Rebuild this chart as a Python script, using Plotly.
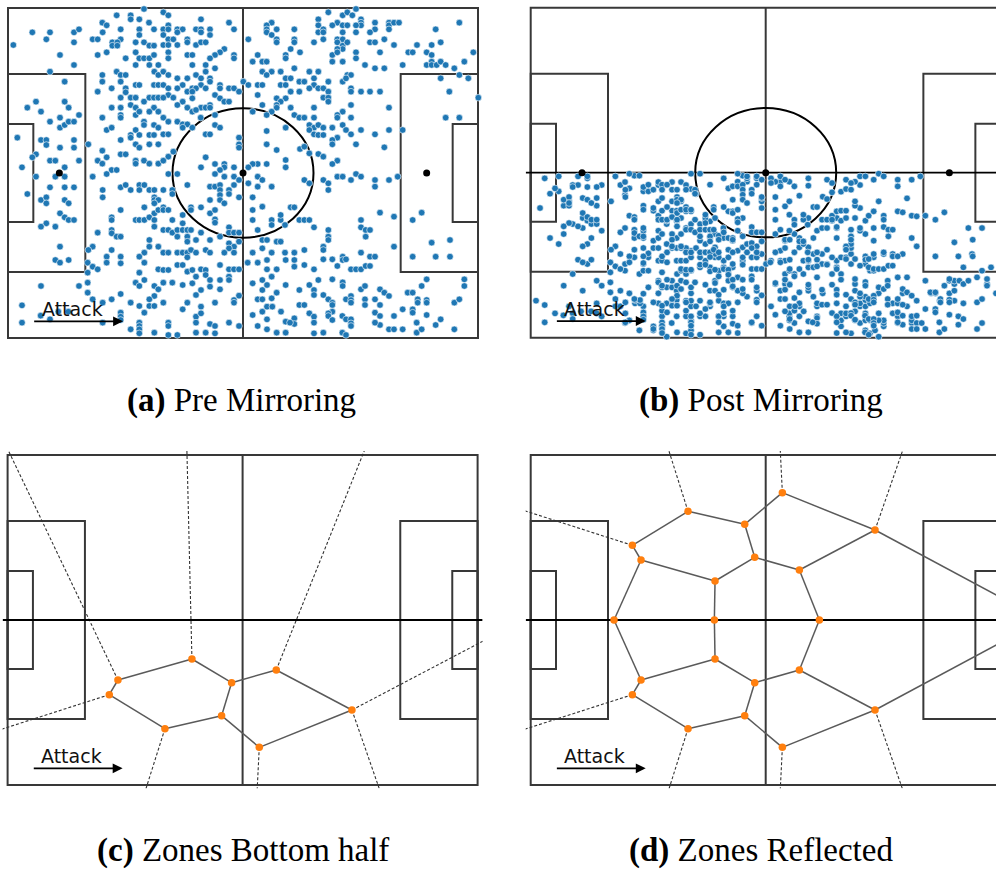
import plotly.graph_objects as go

FIG_W, FIG_H = 996, 869
PX = 10 / 3  # screen pixels per pitch unit (same on both axes)

# Pitch geometry (pitch units, origin at bottom-left corner, attack to the right)
PITCH_LEN, PITCH_WID = 141.0, 99.0
MID_X, MID_Y = PITCH_LEN / 2, PITCH_WID / 2
BOX_DEPTH, BOX_HALF = 23.2, 29.7
SIX_DEPTH, SIX_HALF = 7.6, 14.7
SPOT_DIST = 15.4
CIRCLE_RX, CIRCLE_RY = 21.15, 19.4

X_RANGE = [-1.5, 142.5]
Y_RANGE = [-1.0, 100.2]

LINE_COL = "#383838"
BLUE = "#1f77b4"
ORANGE = "#ff7f0e"

# Event locations
shot_x = [
    40.8, 32.6, 36.8, 36.8, 39.4, 42.3, 28.3, 29.6, 33.8, 39.4,
    43.8, 7.3, 12.6, 19.8, 21.3, 39.4, 28.4, 11.5, 19.8, 25.4,
    26.9, 33.8, 31.3, 32.8, 31.3, 32.8, 38.3, 40.8, 42.4, 43.8,
    1.6, 15.6, 26.9, 29.6, 35.3, 38.3, 39.4, 40.8, 42.4, 43.8,
    19.8, 38.3, 42.4, 45.1, 12.6, 28.3, 32.6, 33.8, 35.3, 43.9,
    45.1, 17.0, 28.3, 33.8, 38.3, 39.4, 43.8, 45.1, 26.9, 31.1,
    35.3, 35.3, 33.8, 36.8, 38.3, 40.8, 42.4, 43.8, 45.1, 8.4,
    17.0, 5.8, 18.2, 9.9, 31.1, 33.8, 36.8, 38.3, 43.8, 21.3,
    15.6, 33.8, 33.8, 38.3, 39.4, 42.4, 45.1, 28.3, 12.6, 15.6,
    17.0, 18.2, 19.8, 29.6, 31.1, 40.8, 40.8, 43.8, 45.1, 38.3,
    36.8, 36.8, 39.4, 42.4, 43.8, 2.8, 9.9, 11.5, 11.5, 19.8,
    33.8, 24.1, 15.6, 19.8, 38.3, 39.4, 42.4, 45.1, 28.3, 8.4,
    7.3, 29.6, 33.8, 35.3, 12.6, 14.2, 21.3, 26.9, 28.3, 38.3,
    38.3, 40.8, 42.4, 45.1, 4.2, 17.0, 31.1, 32.6,
    46.6, 48.1, 57.9, 66.3, 79.1, 48.1, 77.6, 93.1, 93.1, 46.6,
    48.1, 50.8, 52.4, 56.4, 57.9, 60.6, 67.8, 77.6, 80.6, 85.9,
    57.9, 60.6, 50.8, 77.6, 93.1, 46.6, 48.1, 49.6, 53.8, 72.1,
    79.1, 80.6, 85.9, 85.9, 91.8, 46.6, 48.1, 50.8, 53.8, 56.4,
    57.9, 59.3, 80.6, 48.1, 64.9, 63.6, 62.1, 53.8, 55.3, 67.8,
    74.9, 83.3, 84.8, 87.6, 48.1, 60.6, 67.8, 73.4, 76.3, 77.6,
    83.3, 55.3, 59.3, 62.1, 85.9, 46.6, 59.3, 76.3, 79.1, 81.8,
    90.4, 93.1, 48.1, 50.8, 53.8, 56.4, 57.9, 60.6, 77.6, 83.3,
    84.8, 91.8, 60.6, 70.6, 46.6, 52.4, 57.9, 63.6, 72.1, 74.9,
    76.3, 81.8, 83.3, 87.4, 88.9, 91.8, 48.1, 50.8, 55.3, 56.4,
    59.3, 63.6, 66.3, 67.8, 53.8, 55.3, 69.3, 84.8, 87.4, 90.4,
    93.1, 48.1, 46.6, 49.6, 62.1, 63.6, 55.3, 52.4, 64.9, 66.3,
    74.9, 80.6, 83.3, 81.8, 50.8, 60.6, 53.8, 57.9, 59.3, 60.6,
    55.3, 56.4, 80.6, 80.6, 76.3, 79.1, 73.4, 84.8, 91.8, 62.1,
    46.6, 57.8, 77.6, 85.9, 87.4, 88.9, 91.8, 48.1, 50.8, 52.4,
    53.8, 52.4, 55.3, 62.1, 63.6, 83.3, 90.4, 91.8, 93.1, 90.4,
    46.6, 48.1, 59.3, 60.6, 69.3, 77.6, 91.8, 93.1, 69.3, 69.3,
    77.6, 87.6, 88.9, 49.6, 48.1, 59.3, 80.6, 90.4, 93.1, 46.6,
    62.1, 64.9, 83.3, 77.6, 74.9, 73.4, 64.9, 67.8, 57.9, 72.1,
    83.3, 63.6,
    96.1, 100.4, 101.8, 103.3, 104.4, 105.9, 105.9, 105.9, 98.8, 100.4,
    97.3, 101.8, 104.4, 94.6, 94.6, 100.4, 104.4, 110.1, 110.1, 108.6,
    114.3, 114.3, 114.3, 115.8, 117.3, 135.4, 128.3, 94.6, 98.8, 100.4,
    98.8, 100.4, 100.4, 98.8, 101.8, 108.6, 110.1, 112.9, 115.8, 122.7,
    120.1, 121.4, 125.6, 127.1, 127.1, 129.8, 111.6, 104.4, 104.4, 97.3,
    98.8, 97.3, 100.4, 107.1, 110.1, 112.9, 118.4, 125.6, 127.1, 127.1,
    128.6, 129.8, 131.3, 133.9, 136.9, 139.6, 129.8, 135.4, 138.1, 96.1,
    100.4, 101.8, 102.9, 101.4, 94.6, 96.1, 94.6, 96.1, 96.1, 102.9,
    102.9, 105.9, 108.6, 111.6, 132.4, 141.1, 114.3, 102.9, 100.4, 98.8,
    98.8, 102.9, 94.6, 97.3, 100.4, 101.4, 102.9, 105.9, 110.1, 114.3,
    118.4, 131.3, 135.4, 94.6, 98.8, 97.3, 97.3, 104.4, 112.9, 94.6,
    98.8, 97.3,
    8.4, 14.2, 17.0, 25.4, 29.6, 12.6, 17.0, 19.8, 5.8, 9.9,
    11.5, 11.5, 17.0, 18.2, 15.6, 17.0, 18.2, 19.8, 11.5, 9.9,
    14.2, 15.6, 14.2, 15.6, 18.2, 28.4, 28.4, 33.8, 35.3, 36.8,
    39.4, 40.9, 39.4, 42.4, 43.9, 43.9, 43.9, 45.1, 43.9, 40.9,
    33.8, 43.9, 45.1, 31.1, 31.1, 38.3, 39.4, 40.9, 42.4, 43.9,
    43.9, 26.9, 31.1, 31.1, 32.6, 33.8, 42.4, 42.4, 45.1, 25.4,
    24.1, 31.1, 40.9, 39.4, 33.8, 33.8, 29.6, 29.6, 23.9, 25.4,
    26.9, 23.9, 40.9, 45.1, 39.4, 40.9, 9.9, 21.3, 23.9, 23.9,
    25.4, 31.1, 33.8, 28.4, 36.8, 38.3, 39.4, 43.9, 45.1, 43.9,
    42.4, 39.4, 42.4, 43.9, 40.9, 4.2, 4.2, 12.6, 9.8, 28.4,
    33.8, 33.8, 33.8, 36.8, 39.4, 39.4, 39.4, 39.4, 43.9, 15.1,
    18.1,
    48.1, 50.8, 62.1, 64.9, 67.8, 69.3, 72.1, 74.9, 76.3, 88.9,
    90.4, 46.6, 49.3, 49.3, 53.8, 60.6, 62.1, 63.6, 63.6, 63.6,
    66.3, 66.3, 67.8, 69.3, 73.4, 79.1, 74.9, 46.6, 46.6, 48.1,
    49.3, 52.4, 52.4, 54.9, 54.9, 57.9, 60.6, 62.1, 60.6, 63.6,
    64.9, 62.1, 62.1, 66.3, 66.3, 67.8, 69.3, 73.4, 73.4, 74.9,
    76.3, 79.1, 79.1, 81.8, 81.8, 84.8, 85.9, 83.1, 87.4, 88.9,
    90.4, 91.8, 46.6, 48.1, 49.3, 50.8, 50.8, 52.4, 53.8, 54.9,
    53.8, 53.8, 56.4, 57.9, 60.6, 63.6, 66.3, 67.8, 66.3, 69.3,
    46.6, 48.1, 50.8, 52.4, 53.8, 54.9, 53.8, 56.4, 59.3, 60.6,
    64.9, 67.8, 73.4, 76.3, 79.1, 76.3, 77.7, 80.6, 81.8, 83.1,
    85.9, 88.9, 46.6, 48.1, 50.8, 52.4, 53.8, 55.3, 56.4, 57.9,
    59.3, 59.3, 60.6, 63.6, 63.6, 66.3, 67.8, 66.3, 66.3, 69.3,
    71.9, 74.9, 77.7, 77.7, 76.3, 79.1, 80.6, 83.3, 85.9, 85.9,
    88.9, 91.8, 46.6, 49.3, 52.4, 55.3, 57.9, 56.4, 60.6, 63.6,
    62.1, 57.9, 67.8, 67.8, 69.3, 73.4, 76.3, 77.7, 80.6, 79.1,
    83.3, 87.4, 90.4, 91.8, 91.8, 93.1, 46.6, 53.8, 52.4, 56.4,
    57.9, 60.6, 62.1, 48.1, 48.1, 48.1, 50.8, 56.4, 56.4, 59.3,
    62.1, 66.3, 69.3, 73.4, 74.9, 76.3, 77.7, 79.3, 76.3, 77.7,
    81.9, 83.3, 83.3, 85.9, 85.9, 84.6, 87.4, 88.9, 90.4, 91.8,
    91.8, 91.8, 74.9, 77.7, 80.6,
    94.6, 96.1, 96.1, 98.8, 100.4, 102.9, 104.4, 105.9, 110.1, 110.1,
    114.3, 116.9, 111.6, 115.8, 121.4, 124.1, 105.9, 105.9, 107.3, 108.6,
    107.3, 96.1, 96.1, 96.1, 94.6, 94.6, 115.8, 127.1, 132.6, 121.4,
    128.3, 132.6, 94.6, 97.3, 98.8, 100.4, 100.4, 101.4, 102.9, 104.4,
    105.9, 107.3, 108.6, 108.6, 110.1, 105.9, 97.3, 100.4, 100.4, 105.9,
    107.1, 111.6, 112.9, 114.3, 94.6, 96.1, 97.3, 97.3, 101.4, 102.9,
    102.9, 102.9, 107.1, 107.1, 110.1, 111.6, 110.1, 111.6, 111.6, 110.1,
    115.8, 118.4, 119.9, 121.4, 122.9, 122.9, 121.4, 121.4, 125.6, 125.6,
    124.1, 125.6, 136.9, 136.9, 133.9, 135.4, 125.6, 129.8, 128.3, 122.6,
    122.6, 124.1, 133.9, 100.3, 101.4, 102.9, 102.9, 102.9, 97.3, 96.1,
    96.1, 97.3, 94.6, 100.3, 101.4, 114.3, 115.8, 118.4,
]
shot_y = [
    98.7, 96.8, 96.8, 95.6, 95.6, 94.6, 94.6, 93.8, 92.6, 92.6,
    92.6, 91.7, 91.7, 91.7, 92.6, 90.9, 91.7, 89.6, 88.7, 89.6,
    89.6, 89.6, 88.7, 88.7, 87.7, 87.7, 88.7, 88.7, 87.7, 87.7,
    87.9, 84.9, 84.9, 85.7, 83.9, 85.7, 83.9, 83.9, 83.9, 84.9,
    81.9, 81.9, 81.9, 81.9, 79.9, 78.9, 79.9, 78.9, 78.9, 79.9,
    78.9, 76.9, 76.9, 76.9, 75.9, 75.9, 75.9, 75.9, 73.9, 74.9,
    74.9, 73.7, 72.1, 72.1, 72.1, 70.9, 72.1, 72.1, 72.1, 70.9,
    70.9, 69.1, 69.1, 67.9, 69.1, 69.1, 69.9, 69.1, 69.1, 66.9,
    66.1, 66.9, 66.1, 66.9, 67.9, 67.9, 67.9, 66.1, 64.9, 63.1,
    63.9, 64.9, 64.9, 62.4, 63.1, 64.9, 63.9, 63.9, 63.1, 62.4,
    60.9, 60.1, 60.9, 60.9, 60.9, 60.1, 59.4, 59.4, 57.9, 59.4,
    59.4, 58.1, 57.1, 57.1, 58.1, 57.1, 58.1, 58.1, 56.2, 55.1,
    54.2, 54.2, 55.1, 55.1, 53.2, 53.2, 53.2, 53.2, 52.3, 53.2,
    52.3, 53.2, 52.3, 52.3, 51.2, 51.2, 50.4, 50.4,
    97.7, 96.8, 95.6, 94.6, 94.6, 93.8, 93.8, 95.6, 93.8, 92.6,
    92.6, 92.6, 92.6, 92.6, 92.6, 92.6, 92.6, 92.6, 92.6, 92.6,
    91.7, 90.9, 91.7, 91.7, 91.7, 90.9, 89.6, 89.6, 89.6, 89.6,
    90.9, 89.6, 89.6, 88.7, 88.7, 87.9, 87.9, 87.9, 88.7, 87.9,
    88.7, 88.7, 88.7, 85.7, 86.7, 85.7, 84.9, 84.9, 84.9, 84.9,
    84.9, 84.9, 86.7, 85.7, 83.9, 83.9, 83.9, 82.9, 82.9, 82.9,
    83.9, 81.9, 81.9, 80.9, 80.9, 79.9, 79.9, 79.9, 79.9, 79.9,
    79.9, 79.9, 78.9, 77.9, 77.9, 78.9, 77.9, 77.9, 78.9, 77.9,
    77.9, 77.9, 76.9, 76.9, 75.9, 75.9, 75.9, 75.9, 75.9, 75.9,
    75.9, 75.9, 75.9, 76.9, 76.9, 75.9, 74.9, 74.9, 74.9, 74.9,
    74.9, 74.9, 74.9, 74.9, 73.9, 73.9, 73.9, 73.9, 73.9, 74.9,
    74.9, 72.9, 72.1, 72.1, 72.9, 71.9, 71.9, 70.9, 70.9, 70.9,
    72.9, 71.9, 71.9, 70.9, 69.9, 69.9, 69.1, 69.1, 69.1, 69.1,
    67.9, 68.4, 69.9, 69.1, 69.9, 67.9, 67.9, 69.1, 69.1, 66.9,
    66.1, 66.1, 66.9, 66.9, 66.1, 66.1, 66.1, 64.9, 64.9, 64.1,
    64.1, 63.1, 63.1, 63.9, 63.1, 63.1, 63.9, 63.1, 63.9, 62.4,
    61.1, 61.1, 61.1, 61.1, 60.1, 62.1, 61.1, 60.9, 58.1, 57.1,
    58.1, 56.7, 57.4, 55.9, 54.4, 54.2, 56.4, 55.4, 55.2, 53.2,
    52.2, 52.2, 53.4, 52.2, 52.2, 52.2, 51.2, 51.2, 51.2, 51.2,
    51.2, 50.4,
    97.7, 96.8, 97.7, 96.8, 98.7, 95.6, 94.6, 93.8, 94.6, 93.8,
    93.8, 93.8, 93.8, 92.6, 91.7, 91.7, 91.7, 94.6, 92.6, 91.7,
    94.6, 93.8, 92.6, 94.6, 94.6, 94.6, 92.6, 89.6, 89.6, 89.6,
    88.7, 87.7, 86.7, 86.7, 88.7, 88.7, 88.7, 89.6, 87.9, 87.9,
    85.7, 85.7, 85.7, 87.9, 84.9, 88.7, 85.7, 85.7, 83.9, 84.9,
    85.7, 82.9, 82.9, 81.9, 80.9, 80.9, 81.9, 81.9, 82.9, 81.9,
    81.9, 82.9, 81.9, 80.9, 82.9, 85.7, 77.9, 78.9, 77.9, 76.9,
    76.9, 78.9, 78.9, 77.9, 74.9, 73.9, 72.1, 72.1, 70.9, 74.9,
    73.9, 73.9, 73.9, 73.9, 73.9, 72.1, 69.1, 69.9, 67.9, 66.9,
    66.1, 66.1, 63.1, 63.1, 63.9, 62.4, 61.1, 62.4, 61.1, 62.4,
    62.4, 66.1, 66.1, 60.9, 60.1, 59.4, 58.1, 58.1, 57.2, 54.4,
    53.2, 52.2,
    48.4, 48.4, 48.4, 48.4, 49.2, 45.2, 45.2, 45.2, 43.2, 41.4,
    42.2, 40.4, 41.4, 40.4, 37.4, 36.2, 35.4, 35.4, 34.4, 33.4,
    33.4, 27.4, 23.4, 22.6, 23.4, 44.4, 42.2, 45.2, 45.9, 44.4,
    45.9, 45.9, 44.4, 44.4, 44.4, 42.2, 41.4, 41.4, 40.4, 39.2,
    38.4, 37.4, 38.4, 36.2, 35.4, 35.4, 35.4, 35.4, 36.2, 35.4,
    33.4, 31.6, 32.4, 31.4, 30.4, 30.4, 29.4, 27.4, 27.4, 27.4,
    26.4, 26.4, 25.6, 24.4, 24.4, 22.4, 24.4, 22.6, 22.6, 21.4,
    20.6, 19.6, 22.6, 20.6, 19.6, 17.4, 15.6, 15.6, 16.6, 13.6,
    11.6, 11.6, 13.2, 10.6, 10.6, 16.6, 15.6, 15.6, 14.6, 12.6,
    11.6, 9.6, 9.6, 9.6, 7.6, 9.8, 4.6, 5.6, 6.7, 4.6,
    7.6, 6.4, 5.4, 2.6, 4.6, 3.6, 2.6, 1.4, 1.6, 7.9,
    7.9,
    49.2, 49.2, 49.2, 48.4, 48.4, 47.4, 46.4, 48.4, 47.4, 47.4,
    46.4, 44.4, 44.4, 43.2, 45.9, 45.4, 45.4, 45.9, 44.4, 42.9,
    44.4, 43.2, 45.9, 42.2, 42.2, 45.4, 45.4, 39.2, 38.4, 38.4,
    35.4, 36.9, 34.4, 39.2, 38.4, 39.2, 37.4, 38.4, 41.4, 41.4,
    40.4, 35.6, 34.6, 33.2, 31.6, 31.6, 31.6, 35.4, 38.4, 32.4,
    39.4, 35.4, 33.9, 35.4, 36.9, 39.2, 39.2, 33.9, 35.4, 35.4,
    35.4, 33.2, 32.4, 32.4, 31.6, 32.4, 30.4, 32.4, 32.4, 32.4,
    30.4, 28.9, 29.4, 31.6, 29.4, 30.4, 28.4, 27.4, 26.9, 28.9,
    25.6, 25.6, 25.6, 25.6, 25.6, 26.4, 24.2, 25.6, 26.4, 25.6,
    25.6, 25.6, 25.6, 26.9, 25.6, 29.4, 29.4, 28.9, 28.9, 25.6,
    25.6, 26.4, 20.4, 20.4, 21.9, 21.9, 19.9, 20.4, 18.4, 20.6,
    20.4, 18.9, 17.4, 21.9, 17.4, 20.6, 20.6, 18.4, 17.4, 20.6,
    22.6, 22.6, 23.4, 20.6, 17.4, 18.4, 20.6, 23.4, 23.4, 21.4,
    21.9, 20.6, 16.6, 16.6, 15.9, 16.4, 14.4, 12.9, 15.4, 14.6,
    10.6, 9.4, 11.4, 10.6, 12.7, 16.4, 14.4, 15.9, 13.6, 11.9,
    15.9, 14.4, 15.9, 14.4, 12.9, 17.4, 10.6, 10.6, 8.6, 6.4,
    7.4, 4.2, 3.6, 4.6, 3.6, 0.9, 0.9, 4.6, 1.6, 1.6,
    1.4, 4.6, 3.6, 6.9, 11.6, 11.6, 9.4, 9.4, 7.9, 5.6,
    7.9, 4.9, 1.6, 5.9, 4.2, 4.6, 9.9, 9.9, 7.4, 6.4,
    4.6, 1.4, 3.6, 2.6, 1.6,
    47.4, 46.4, 44.4, 48.4, 48.4, 47.4, 49.2, 48.4, 47.4, 45.4,
    47.4, 48.4, 37.6, 36.4, 35.4, 37.6, 35.4, 33.2, 32.4, 32.4,
    30.4, 32.4, 30.4, 29.4, 27.4, 26.4, 27.4, 28.6, 29.4, 24.4,
    24.4, 24.4, 23.6, 23.6, 21.6, 24.4, 23.4, 23.6, 20.6, 20.6,
    20.6, 21.6, 21.6, 24.4, 24.4, 25.6, 17.6, 16.7, 15.6, 14.6,
    15.6, 14.6, 13.6, 12.6, 12.9, 11.6, 10.6, 9.9, 11.6, 12.6,
    11.4, 10.6, 11.6, 9.9, 11.6, 9.9, 7.6, 6.6, 3.9, 4.6,
    6.6, 8.6, 13.6, 13.6, 11.6, 10.6, 8.6, 7.6, 11.4, 10.6,
    15.6, 17.6, 17.6, 15.6, 10.6, 11.6, 6.9, 5.6, 3.9, 4.6,
    1.6, 2.6, 2.6, 6.6, 5.6, 5.6, 4.4, 3.6, 7.9, 7.4,
    6.6, 5.4, 1.6, 1.6, 0.9, 2.6, 2.6, 2.6,
]
assert len(shot_x) == len(shot_y)

# Mirroring: events in the upper half are reflected into the lower half
mirror_x = list(shot_x)
mirror_y = [PITCH_WID - y if y > MID_Y else y for y in shot_y]

# Zone diagram for the bottom half: Voronoi vertices and ridges
zone_vx = [33.1, 30.5, 55.3, 67.2, 80.6, 64.2, 47.2, 75.5, 103.3]
zone_vy = [31.5, 27.1, 37.8, 30.7, 34.5, 20.8, 16.9, 11.3, 22.5]
ridge_from = [0, 2, 3, 4, 8, 7, 5, 5, 6, 1]
ridge_to = [2, 3, 4, 8, 7, 5, 3, 6, 1, 0]
# unbounded ridges: start vertex and a point the ridge passes through
open_from = [0, 2, 4, 8, 8, 7, 6, 1]
open_px = [0.4, 53.8, 106.9, 142.3, 111.4, 74.9, 41.6, -1.6]
open_py = [100.0, 100.0, 100.0, 43.0, -0.8, -0.8, -0.8, 16.8]

# Reflected diagram: extra vertices on the halfway axis and their links
axis_vx = [25.0, 55.1, 86.6, 153.6]
axis_link_from = [0, 2, 4, 8]          # bottom-half vertex joined to axis vertex
axis_link_to = [0, 1, 2, 3]
kept_open = [4, 5, 6, 7]               # unbounded ridges that survive reflection
axis_open_dir = [-1, 0, 0, 1]          # axis vertices with a ridge running along the axis


def panel_domain(left_px, bottom_px, xr, yr):
    x0 = left_px + xr[0] * PX
    x1 = left_px + xr[1] * PX
    top = bottom_px - yr[1] * PX
    bot = bottom_px - yr[0] * PX
    return [x0 / FIG_W, min(x1, FIG_W) / FIG_W], [1 - bot / FIG_H, 1 - top / FIG_H]


# pitch origin on screen for each panel (left edge, bottom edge)
panels = [
    (8.0, 338.0),
    (530.7, 337.7),
    (7.6, 785.0),
    (530.7, 785.0),
]

fig = go.Figure()
layout_axes = {}
shapes = []
annotations = []

for i, (lpx, bpx) in enumerate(panels, start=1):
    xr = list(X_RANGE)
    if lpx + xr[1] * PX > FIG_W:
        xr[1] = (FIG_W - lpx) / PX
    dx, dy = panel_domain(lpx, bpx, xr, Y_RANGE)
    sfx = "" if i == 1 else str(i)
    layout_axes["xaxis" + sfx] = dict(domain=dx, range=xr, visible=False,
                                      fixedrange=True, anchor="y" + sfx)
    layout_axes["yaxis" + sfx] = dict(domain=dy, range=Y_RANGE, visible=False,
                                      fixedrange=True, anchor="x" + sfx)

    xa, ya = "x" + sfx, "y" + sfx
    ref = dict(xref=xa, yref=ya, layer="below")
    ln = dict(color=LINE_COL, width=2)
    shapes += [
        dict(type="rect", x0=0, y0=0, x1=PITCH_LEN, y1=PITCH_WID, line=ln, **ref),
        dict(type="line", x0=MID_X, y0=0, x1=MID_X, y1=PITCH_WID, line=ln, **ref),
        dict(type="rect", x0=0, y0=MID_Y - BOX_HALF, x1=BOX_DEPTH, y1=MID_Y + BOX_HALF, line=ln, **ref),
        dict(type="rect", x0=PITCH_LEN - BOX_DEPTH, y0=MID_Y - BOX_HALF, x1=PITCH_LEN,
             y1=MID_Y + BOX_HALF, line=ln, **ref),
        dict(type="rect", x0=0, y0=MID_Y - SIX_HALF, x1=SIX_DEPTH, y1=MID_Y + SIX_HALF, line=ln, **ref),
        dict(type="rect", x0=PITCH_LEN - SIX_DEPTH, y0=MID_Y - SIX_HALF, x1=PITCH_LEN,
             y1=MID_Y + SIX_HALF, line=ln, **ref),
    ]
    if i <= 2:
        shapes.append(dict(type="circle", x0=MID_X - CIRCLE_RX, x1=MID_X + CIRCLE_RX,
                           y0=MID_Y - CIRCLE_RY, y1=MID_Y + CIRCLE_RY,
                           line=dict(color="black", width=2), **ref))
    if i == 2:
        shapes.append(dict(type="line", x0=xr[0], y0=MID_Y, x1=xr[1], y1=MID_Y,
                           line=dict(color="black", width=1.8), **ref))

    # attack direction
    annotations.append(dict(x=19.2, y=8.6, xref=xa, yref=ya, text="Attack", showarrow=False,
                            font=dict(family="DejaVu Sans", size=19, color="#111111"),
                            xanchor="center", yanchor="middle"))
    annotations.append(dict(x=34.5, y=5.0, ax=7.4, ay=5.0, xref=xa, yref=ya, axref=xa, ayref=ya,
                            text="", showarrow=True, arrowhead=2, arrowsize=1.1,
                            arrowwidth=1.8, arrowcolor="black", standoff=0, startstandoff=0))

spots_x = [SPOT_DIST, MID_X, PITCH_LEN - SPOT_DIST]
spots_y = [MID_Y, MID_Y, MID_Y]
dot_style = dict(size=6.6, color=BLUE, line=dict(color="white", width=0.6))

# (a) raw events
fig.add_trace(go.Scatter(x=shot_x, y=shot_y, mode="markers", marker=dot_style,
                         xaxis="x", yaxis="y", showlegend=False))
fig.add_trace(go.Scatter(x=spots_x, y=spots_y, mode="markers",
                         marker=dict(size=7, color="black"), xaxis="x", yaxis="y", showlegend=False))

# (b) mirrored events
fig.add_trace(go.Scatter(x=mirror_x, y=mirror_y, mode="markers", marker=dot_style,
                         xaxis="x2", yaxis="y2", showlegend=False))
fig.add_trace(go.Scatter(x=spots_x, y=spots_y, mode="markers",
                         marker=dict(size=7, color="black"), xaxis="x2", yaxis="y2", showlegend=False))


def segments(pairs):
    xs, ys = [], []
    for (x0, y0), (x1, y1) in pairs:
        xs += [x0, x1, None]
        ys += [y0, y1, None]
    return xs, ys


def far_point(v, p, k=6.0):
    return (v[0] + k * (p[0] - v[0]), v[1] + k * (p[1] - v[1]))


def add_zones(verts, solid, dashed, xa, ya):
    sx, sy = segments(solid)
    fig.add_trace(go.Scatter(x=sx, y=sy, mode="lines", line=dict(color="#5a5a5a", width=1.5),
                             xaxis=xa, yaxis=ya, showlegend=False, hoverinfo="skip"))
    dxs, dys = segments(dashed)
    fig.add_trace(go.Scatter(x=dxs, y=dys, mode="lines",
                             line=dict(color="#333333", width=1.1, dash="3px,2px"),
                             xaxis=xa, yaxis=ya, showlegend=False, hoverinfo="skip"))
    fig.add_trace(go.Scatter(x=[X_RANGE[0], X_RANGE[1]], y=[MID_Y, MID_Y], mode="lines",
                             line=dict(color="black", width=1.8),
                             xaxis=xa, yaxis=ya, showlegend=False, hoverinfo="skip"))
    fig.add_trace(go.Scatter(x=[v[0] for v in verts], y=[v[1] for v in verts], mode="markers",
                             marker=dict(size=7.5, color=ORANGE), xaxis=xa, yaxis=ya,
                             showlegend=False))


# (c) zones for the bottom half
vc = list(zip(zone_vx, zone_vy))
solid_c = [(vc[a], vc[b]) for a, b in zip(ridge_from, ridge_to)]
dashed_c = [(vc[a], far_point(vc[a], (px_, py_))) for a, px_, py_ in zip(open_from, open_px, open_py)]
add_zones(vc, solid_c, dashed_c, "x3", "y3")

# (d) zones after reflecting the generators about the halfway axis
vtop = [(x, PITCH_WID - y) for x, y in vc]
vaxis = [(x, MID_Y) for x in axis_vx]
solid_d = solid_c + [(vtop[a], vtop[b]) for a, b in zip(ridge_from, ridge_to)]
for a, b in zip(axis_link_from, axis_link_to):
    solid_d += [(vc[a], vaxis[b]), (vtop[a], vaxis[b])]
solid_d += [(vaxis[k], vaxis[k + 1]) for k in range(len(vaxis) - 1)]
dashed_d = []
for k in kept_open:
    a = open_from[k]
    p = (open_px[k], open_py[k])
    dashed_d.append((vc[a], far_point(vc[a], p)))
    dashed_d.append((vtop[a], far_point(vtop[a], (p[0], PITCH_WID - p[1]))))
for v, d in zip(vaxis, axis_open_dir):
    if d:
        dashed_d.append((v, (v[0] + d * 200, MID_Y)))
add_zones(vc + vtop + vaxis[:3], solid_d, dashed_d, "x4", "y4")

# sub-figure captions
serif = dict(family="Liberation Serif", size=33, color="black")
captions = [
    ("<b>(a)</b> Pre Mirroring", 241.5, 401),
    ("<b>(b)</b> Post Mirroring", 761.0, 401),
    ("<b>(c)</b> Zones Bottom half", 243.0, 850),
    ("<b>(d)</b> Zones Reflected", 760.5, 850),
]
for text, cx, cy in captions:
    annotations.append(dict(x=cx / FIG_W, y=1 - cy / FIG_H, xref="paper", yref="paper",
                            text=text, showarrow=False, font=serif,
                            xanchor="center", yanchor="middle"))

fig.update_layout(
    width=FIG_W, height=FIG_H,
    margin=dict(l=0, r=0, t=0, b=0),
    paper_bgcolor="white", plot_bgcolor="white",
    shapes=shapes, annotations=annotations,
    **layout_axes,
)

fig.write_html("out.html")
